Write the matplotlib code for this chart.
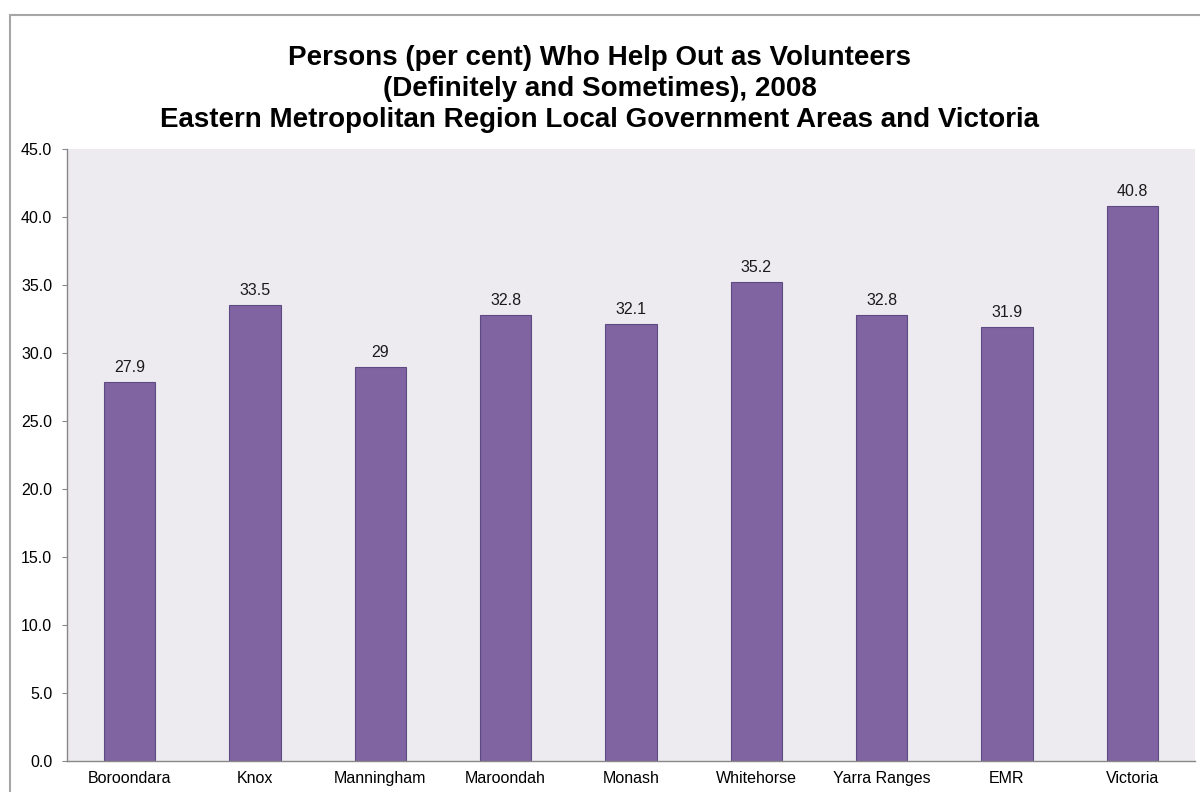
import matplotlib
matplotlib.use("Agg")
import matplotlib.pyplot as plt
from matplotlib.patches import Rectangle

areas = ["Boroondara", "Knox", "Manningham", "Maroondah", "Monash",
         "Whitehorse", "Yarra Ranges", "EMR", "Victoria"]
values = [27.9, 33.5, 29, 32.8, 32.1, 35.2, 32.8, 31.9, 40.8]
value_labels = ["27.9", "33.5", "29", "32.8", "32.1", "35.2", "32.8", "31.9", "40.8"]
y_ticks = [0, 5, 10, 15, 20, 25, 30, 35, 40, 45]

plt.rcParams['font.family'] = ['Liberation Sans', 'DejaVu Sans']

fig = plt.figure(figsize=(12, 7.92), dpi=100)
fig.patch.set_facecolor('white')

# chart frame
fig.patches.append(Rectangle((10 / 1200, -0.05), 1.2, 1 - 15 / 792 + 0.05,
                             transform=fig.transFigure, fill=False,
                             edgecolor='#A6A6A6', linewidth=1.5))

ax = fig.add_axes([67 / 1200, 1 - 761 / 792, (1195 - 67) / 1200, (761 - 149) / 792])
ax.set_facecolor('#EDEBF0')

x = range(len(areas))
ax.bar(x, values, width=0.41, color='#8064A2', edgecolor='#5E4A82', linewidth=0.8, zorder=2)
for xi, v, lab in zip(x, values, value_labels):
    ax.annotate(lab, (xi, v), xytext=(0, 5), textcoords='offset points',
                ha='center', va='bottom', fontsize=11.5, color='#1a1a1a')

ax.set_xlim(-0.5, len(areas) - 0.5)
ax.set_ylim(0, 45)
ax.set_yticks(y_ticks)
ax.set_yticklabels([f"{t:.1f}" for t in y_ticks], fontsize=11.5)
ax.set_xticks(list(x))
ax.set_xticklabels(areas, fontsize=11.5)
ax.tick_params(axis='x', length=0, pad=7)
ax.tick_params(axis='y', length=3.6, color='#888888', pad=7)
for s in ['top', 'right']:
    ax.spines[s].set_visible(False)
for s in ['left', 'bottom']:
    ax.spines[s].set_color('#888888')
    ax.spines[s].set_linewidth(1.0)

fig.text(0.5, 1 - 89 / 792,
         "Persons (per cent) Who Help Out as Volunteers\n(Definitely and Sometimes), 2008\n"
         "Eastern Metropolitan Region Local Government Areas and Victoria",
         ha='center', va='center', fontsize=20, fontweight='bold', linespacing=1.27)

fig.savefig("out.png", dpi=100)
